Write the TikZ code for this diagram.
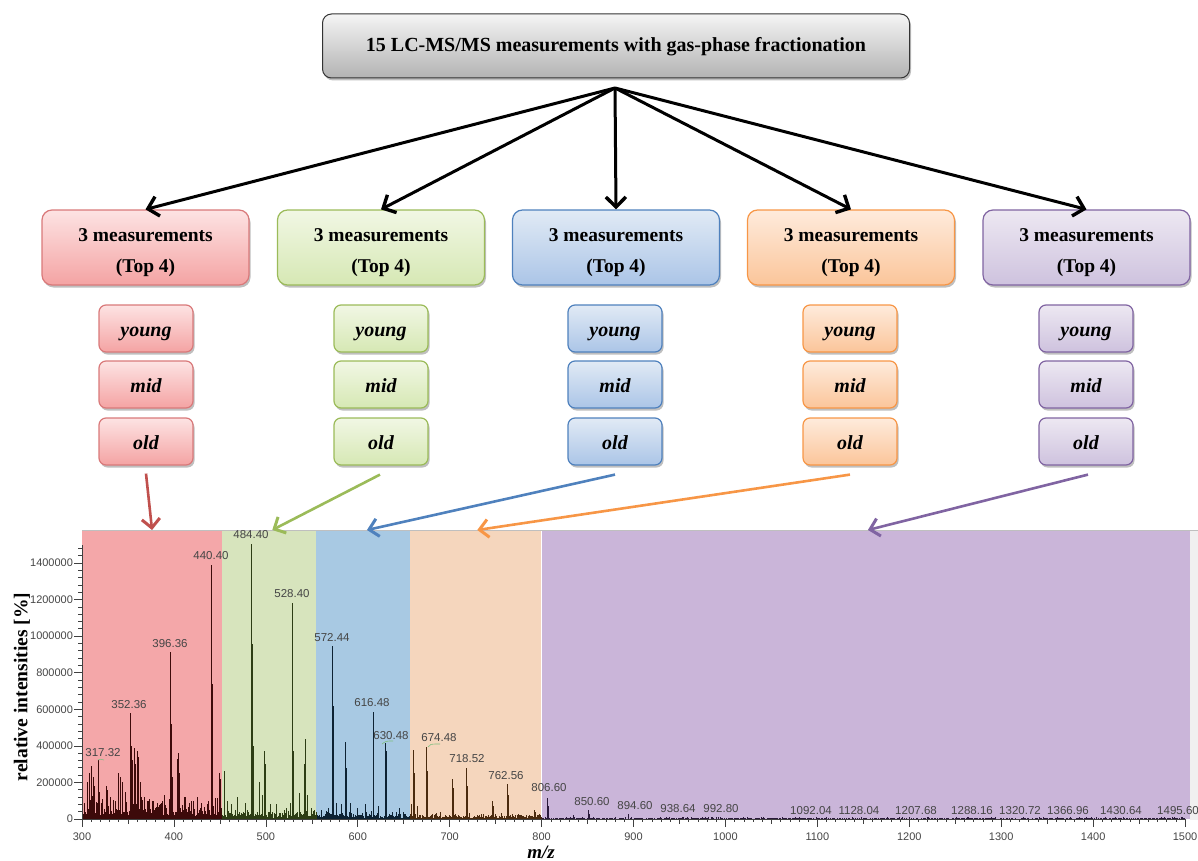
\documentclass[tikz,border=0pt]{standalone}
\usepackage{fontspec}
\setmainfont{Liberation Serif}
\newfontfamily\arialf{Liberation Sans}
\usetikzlibrary{arrows.meta,shadows}
\definecolor{rdA}{HTML}{FDE3E3}\definecolor{rdB}{HTML}{F4A3A3}\definecolor{rdL}{HTML}{D9797A}\definecolor{rdR}{HTML}{F4A7A9}\definecolor{rdP}{HTML}{3D0A0A}\definecolor{rdArr}{HTML}{C0504D}
\definecolor{grA}{HTML}{F1F7E4}\definecolor{grB}{HTML}{D6E8B4}\definecolor{grL}{HTML}{9BBB59}\definecolor{grR}{HTML}{D7E4BD}\definecolor{grP}{HTML}{2D3D14}\definecolor{grArr}{HTML}{9BBB59}
\definecolor{blA}{HTML}{E1EAF5}\definecolor{blB}{HTML}{ABC5E7}\definecolor{blL}{HTML}{4F81BD}\definecolor{blR}{HTML}{A8C9E3}\definecolor{blP}{HTML}{0D2233}\definecolor{blArr}{HTML}{4F81BD}
\definecolor{orA}{HTML}{FEEBDC}\definecolor{orB}{HTML}{FBC59A}\definecolor{orL}{HTML}{F79646}\definecolor{orR}{HTML}{F5D6BD}\definecolor{orP}{HTML}{4A2A0E}\definecolor{orArr}{HTML}{F79646}
\definecolor{puA}{HTML}{EDE8F2}\definecolor{puB}{HTML}{CEC2DE}\definecolor{puL}{HTML}{8064A2}\definecolor{puR}{HTML}{CAB5D9}\definecolor{puP}{HTML}{2A1A3A}\definecolor{puArr}{HTML}{8064A2}
\definecolor{lbl}{HTML}{454545}
\definecolor{lead}{HTML}{7FBF7F}
\tikzset{
  shad/.style={drop shadow={shadow xshift=1.5pt,shadow yshift=-2.5pt,opacity=0.25,fill=black}},
  topbox/.style={rounded corners=9pt,draw=black!80,line width=1pt,top color=black!4,bottom color=black!30,minimum width=587pt,minimum height=64pt,font=\bfseries\fontsize{20}{22}\selectfont,text height=14pt,text depth=2pt,shad},
  bigbox/.style={rounded corners=10pt,line width=1.2pt,minimum width=207pt,minimum height=75pt,align=center,font=\bfseries\fontsize{19.5}{31}\selectfont,shad},
  smallbox/.style={rounded corners=7pt,line width=1.2pt,minimum width=94pt,minimum height=47pt,text height=16pt,text depth=1pt,font=\bfseries\itshape\fontsize{20}{20}\selectfont,shad},
  cl/.style={draw=#1L,top color=#1A,bottom color=#1B},
  blackarrow/.style={line width=3pt,-{Straight Barb[length=10pt,width=20pt,line width=3.4pt]}},
  colarrow/.style={line width=2.6pt,draw=#1,-{Straight Barb[length=9pt,width=18pt,line width=3pt]}},
  pklab/.style={font=\arialf\fontsize{11.5}{12}\selectfont,text=lbl,inner sep=0pt},
  ticklab/.style={font=\arialf\fontsize{11}{12}\selectfont,text=lbl,inner sep=0pt},
}
\newcommand{\pk}[2]{\draw ({#1-300},0) -- ({#1-300},#2);}
\begin{document}
\begin{tikzpicture}[x=1pt,y=-1pt]
\useasboundingbox (0,0) rectangle (1198,861);
% top box
\node[topbox] (top) at (616,46) {15 LC-MS/MS measurements with gas-phase fractionation};
\coordinate (src) at (615,88);
% big boxes
\foreach \c/\x in {rd/145.5,gr/381,bl/616,or/851,pu/1086.5}{
  \node[bigbox,cl=\c] (big\c) at (\x,247.5) {\rule{0pt}{22.5pt}3 measurements\\(Top 4)};
}
\foreach \c/\x in {rd/146,gr/381,bl/615,or/850,pu/1086}{
  \node[smallbox,cl=\c] (y\c) at (\x,328.5) {young};
  \node[smallbox,cl=\c] (m\c) at (\x,384.5) {mid};
  \node[smallbox,cl=\c] (o\c) at (\x,441.5) {old};
}
% black arrows
\foreach \c in {rd,gr,bl,or,pu}{
  \draw[blackarrow] (src) -- (big\c.north);
}
% spectrum backgrounds and peaks
\begin{scope}[shift={(82,819)},x=0.9192pt,y=0.1829pt]
  \fill[rdR] (0.5,0) rectangle (152,1580);
  \fill[grR] (152,0) rectangle (254.6,1580);
  \fill[blR] (254.6,0) rectangle (357,1580);
  \fill[orR] (357,0) rectangle (500,1580);
  \fill[puR] (500,0) rectangle (1205,1580);
  \draw[white,line width=1pt] (500,0) -- (500,1580);
  \fill[black!6] (1205,-5) rectangle (1214,1580);
  \draw[black!25,line width=0.5pt] (0.5,1580) -- (1214,1580);
  \coordinate (tR) at (76.2,1580);
  \coordinate (tG) at (207,1580);
  \coordinate (tB) at (310,1580);
  \coordinate (tO) at (430,1580);
  \coordinate (tP) at (855,1580);
  \pgfmathsetseed{7}
  \begin{scope}[rdP,line width=0.5pt]
    \foreach \m in {300.5,301,...,452}{\pgfmathsetmacro\h{15+rnd*rnd*120}\draw ({\m-300},0) -- ({\m-300},\h);}
  \end{scope}
  \begin{scope}[grP,line width=0.5pt]
    \foreach \m in {452.5,453,...,555}{\pgfmathsetmacro\h{5+rnd*rnd*55}\draw ({\m-300},0) -- ({\m-300},\h);}
  \end{scope}
  \begin{scope}[blP,line width=0.5pt]
    \foreach \m in {555.5,556,...,657}{\pgfmathsetmacro\h{5+rnd*rnd*40}\draw ({\m-300},0) -- ({\m-300},\h);}
  \end{scope}
  \begin{scope}[orP,line width=0.5pt]
    \foreach \m in {657.5,658,...,800}{\pgfmathsetmacro\h{4+rnd*rnd*30}\draw ({\m-300},0) -- ({\m-300},\h);}
  \end{scope}
  \begin{scope}[puP,line width=0.5pt]
    \foreach \m in {800.5,801.5,...,1500}{\pgfmathsetmacro\h{2+rnd*rnd*10}\draw ({\m-300},0) -- ({\m-300},\h);}
  \end{scope}
  \begin{scope}[rdP,line width=0.8pt]
    \foreach \m/\i in {310/290,308/250,312/230,306/200,314/180,317.32/322,319/150,326/180,328/160,331/120,340/250,342/230,344/200,347/150,352.36/580,353.4/400,355/320,357/390,358/300,360/370,361.4/340,363/200,368/120,372/100,378/90,386/90,390/130,396.36/913,397.4/520,398.4/230,404/330,405.4/360,406.4/250,412/120,419/100,425/120,430/90,437/100,440.4/1389,441.4/740,442.4/360,449/250,451/220}{\pk{\m}{\i}}
  \end{scope}
  \begin{scope}[grP,line width=0.8pt]
    \foreach \m/\i in {455/260,458/100,462/80,469/120,478/90,484.4/1503,485.4/955,486.4/400,493/200,496/130,498.4/370,499.4/300,505/80,512/80,522/60,527/90,528.4/1181,529.4/610,530.4/370,537/140,542/300,543.4/440,545/130,550/60}{\pk{\m}{\i}}
  \end{scope}
  \begin{scope}[blP,line width=0.8pt]
    \foreach \m/\i in {560/50,568/60,572.44/946,573.44/620,577/90,582/80,586.4/420,587.4/280,592/90,600/60,608/80,616.48/585,617.48/400,622/70,630.48/415,631.48/370,645/60,650/40}{\pk{\m}{\i}}
  \end{scope}
  \begin{scope}[orP,line width=0.8pt]
    \foreach \m/\i in {658/80,661/380,662/250,665/70,674.48/394,675.48/260,690/40,703/220,704/170,718.52/279,719.5/180,735/30,747/100,748/70,762.56/191,763.5/130,778/20,792/50,793/40}{\pk{\m}{\i}}
  \end{scope}
  \begin{scope}[puP,line width=0.8pt]
    \foreach \m/\i in {806.6/115,807.6/70,835/20,850.6/50,851.6/30,880/10,894.6/25,920/8,938.64/12,992.8/10}{\pk{\m}{\i}}
  \end{scope}
  % axes
  \begin{scope}[black!75,line width=0.6pt]
    \draw (0,0) -- (0,1500);
    \draw (0,0) -- (1200,0);
    \foreach \i in {0,40,...,1480}{\draw (0,\i) -- (-4.4,\i);}
    \foreach \i/\t in {0/0,200/200000,400/400000,600/600000,800/800000,1000/1000000,1200/1200000,1400/1400000}{
      \draw (0,\i) -- (-8.5,\i);
      \node[ticklab,anchor=east] at (-9.5,\i) {\t};
    }
    \foreach \x in {0,10,...,1200}{\draw (\x,0) -- (\x,-16);}
    \foreach \x in {0,50,...,1200}{\draw (\x,0) -- (\x,-27);}
    \foreach \x in {0,100,...,1200}{
      \draw (\x,0) -- (\x,-44);
      \pgfmathtruncatemacro\lab{\x+300}
      \node[ticklab,anchor=north] at (\x,-75) {\lab};
    }
  \end{scope}
\end{scope}
% leader lines
\begin{scope}[lead,line width=0.6pt]
  \draw (104,760) .. controls (100,759) .. (98,760);
  \draw (393,741) .. controls (386,741) .. (382,744);
  \draw (440,744) .. controls (430,744) .. (428,747);
\end{scope}
% peak labels
\foreach \x/\y/\t in {103/753/317.32,129/705/352.36,170/644/396.36,211/556/440.40,251/535/484.40,292/594/528.40,332/638/572.44,372/703/616.48,391/736/630.48,439/738/674.48,467/759/718.52,506/776/762.56,549/788/806.60,592/802/850.60,635/806/894.60,678/809/938.64,721/809/992.80,811/811/1092.04,859/811/1128.04,916/811/1207.68,972/811/1288.16,1020/811/1320.72,1068/811/1366.96,1121/811/1430.64,1178/811/1495.60}{
  \node[pklab] at (\x,\y) {\t};
}
% axis titles
\node[font=\bfseries\fontsize{19.5}{20}\selectfont,rotate=90] (ylab) at (22,687) {relative intensities [\%]};
\node[font=\bfseries\itshape\fontsize{19}{20}\selectfont] (xlab) at (541,852) {m/z};
% colored arrows
\draw[colarrow=rdArr] ([yshift=-8pt]ord.south) -- (tR);
\draw[colarrow=grArr] ([xshift=-1pt,yshift=-9pt]ogr.south) -- (tG);
\draw[colarrow=blArr] ([yshift=-9pt]obl.south) -- (tB);
\draw[colarrow=orArr] ([yshift=-9pt]oor.south) -- (tO);
\draw[colarrow=puArr] ([xshift=2pt,yshift=-9pt]opu.south) -- (tP);
\end{tikzpicture}
\end{document}
